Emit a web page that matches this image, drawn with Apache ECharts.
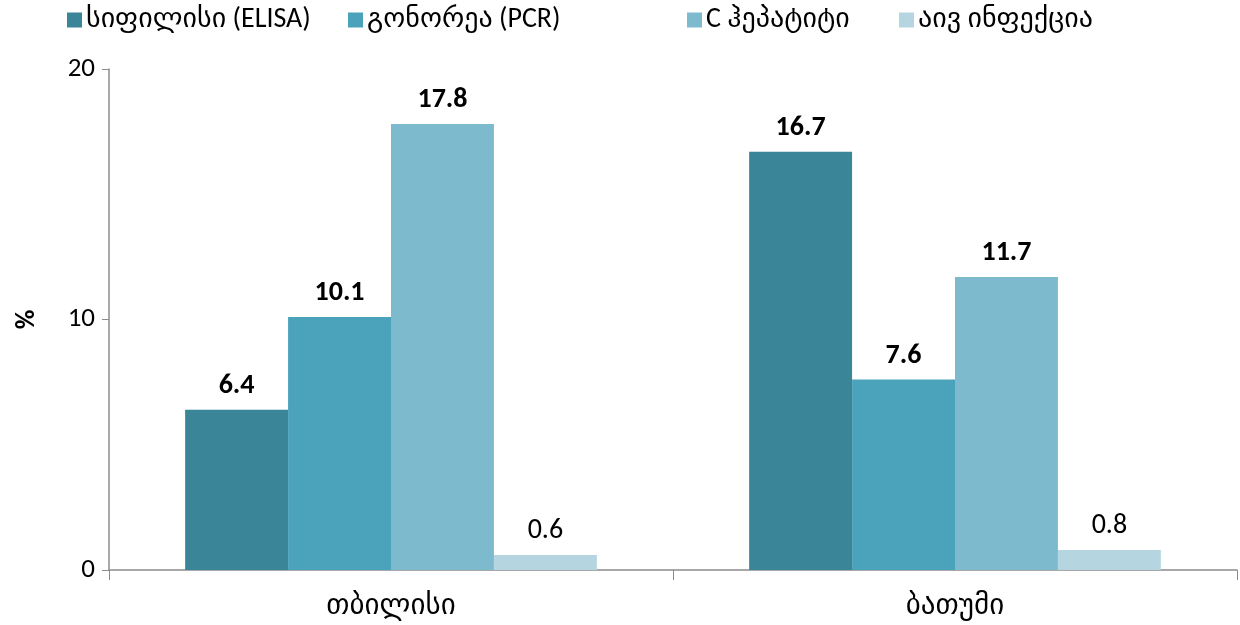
<!DOCTYPE html>
<html>
<head>
<meta charset="utf-8">
<script src="https://cdn.jsdelivr.net/npm/echarts@6/dist/echarts.min.js"></script>
<style>
  html, body { margin: 0; padding: 0; background: #fff; }
  #chart { width: 1240px; height: 625px; }
</style>
</head>
<body>
<div id="chart"></div>
<script>
// ქალაქები და მაჩვენებლები (%)
const cities = ["თბილისი", "ბათუმი"];
const seriesNames = ["სიფილისი (ELISA)", "გონორეა (PCR)", "C ჰეპატიტი", "აივ ინფექცია"];
const syphilis = [6.4, 16.7];
const gonorrhea = [10.1, 7.6];
const hepC = [17.8, 11.7];
const hiv = [0.6, 0.8];
const colors = ["#3A8598", "#4AA3BA", "#7EBACE", "#B5D6E0"];
const legendLeft = [67, 348, 687, 899];

const font = "Calibri, 'Open Sans', 'DejaVu Sans', sans-serif";

const chart = echarts.init(document.getElementById("chart"));

const makeSeries = (name, data, i) => ({
  name: name,
  type: "bar",
  data: data,
  barGap: "0%",
  barCategoryGap: "27%",
  itemStyle: { color: colors[i] },
  label: {
    show: true,
    position: "top",
    distance: 10,
    fontFamily: font,
    fontSize: 28,
    fontWeight: i < 3 ? "bold" : "normal",
    color: "#000",
    formatter: (p) => p.value.toFixed(1)
  }
});

// ერთი ლეგენდა თითო სერიაზე, რომ პოზიციები დავამთხვიოთ
const legends = seriesNames.map((n, i) => ({
  data: [n],
  top: 6,
  left: legendLeft[i],
  padding: 0,
  itemWidth: 15,
  itemHeight: 15,
  itemGap: 4,
  icon: "rect",
  textStyle: { fontFamily: font, fontSize: 28, color: "#000", padding: [0, 0, 0, -1] }
}));

const option = {
  animation: false,
  legend: legends,
  grid: { left: 109, right: 3, top: 69, bottom: 55 },
  xAxis: {
    type: "category",
    data: cities,
    axisLine: { lineStyle: { color: "#8c8c8c", width: 1.5 } },
    axisTick: { show: true, length: 10, lineStyle: { color: "#8c8c8c" } },
    axisLabel: { fontFamily: font, fontSize: 29, color: "#000", margin: 22 }
  },
  yAxis: {
    type: "value",
    min: 0,
    max: 20,
    interval: 10,
    name: "%",
    nameLocation: "middle",
    nameGap: 68,
    nameRotate: 90,
    nameTextStyle: { fontFamily: font, fontSize: 27, fontWeight: "bold", color: "#000" },
    splitLine: { show: false },
    axisLine: { show: true, lineStyle: { color: "#8c8c8c", width: 1.5 } },
    axisTick: { show: true, length: 7, lineStyle: { color: "#8c8c8c" } },
    axisLabel: { fontFamily: font, fontSize: 27, color: "#000", margin: 14 }
  },
  series: [
    makeSeries(seriesNames[0], syphilis, 0),
    makeSeries(seriesNames[1], gonorrhea, 1),
    makeSeries(seriesNames[2], hepC, 2),
    makeSeries(seriesNames[3], hiv, 3)
  ]
};

chart.setOption(option);
</script>
</body>
</html>
